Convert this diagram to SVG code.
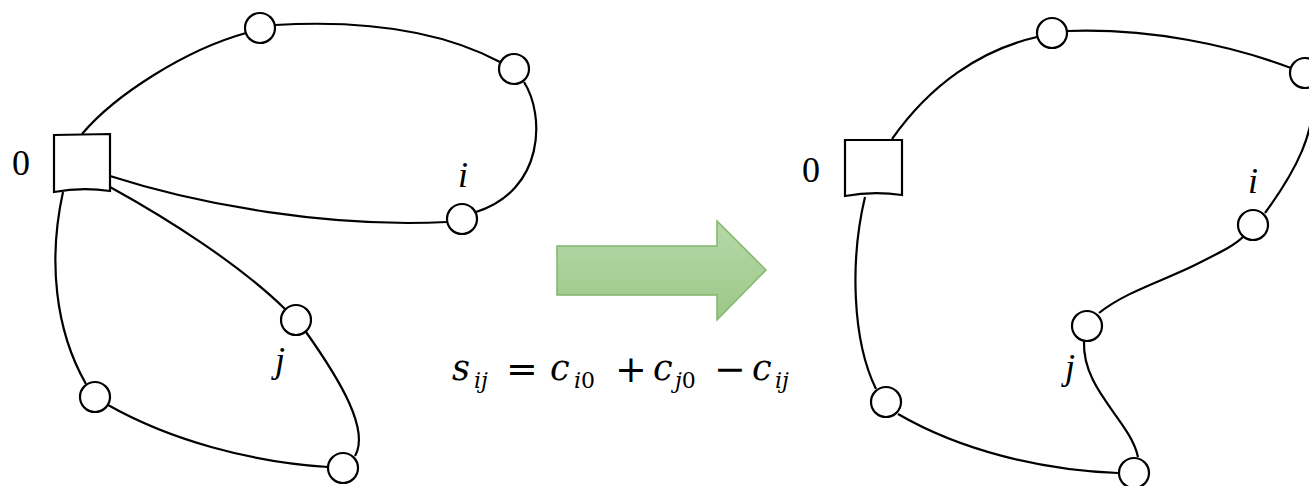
<svg xmlns="http://www.w3.org/2000/svg" width="1309" height="486" viewBox="0 0 1309 486">
<defs>
<linearGradient id="ag" x1="0" y1="0" x2="0" y2="1">
<stop offset="0" stop-color="#b6d8a9"/>
<stop offset="1" stop-color="#9bc888"/>
</linearGradient>
<style>
.e{fill:none;stroke:#000;stroke-width:2.2}
.n{fill:#fff;stroke:#000;stroke-width:2.2}
.t{font-family:"Liberation Serif",serif;font-size:36px;fill:#000}
.f{font-family:"DejaVu Serif",serif;font-size:35px;fill:#000}
.it{font-style:italic}
.sub{font-size:22px}
.op{font-size:38px}
</style>
</defs>
<rect width="1309" height="486" fill="#fff"/>
<g id="connectors">
<path class="e" d="M82,134 C115,95 185,50 246,33"/>
<path class="e" d="M275,25 C360,20 440,30 500,62"/>
<path class="e" d="M524,82 C545,115 545,190 476,212"/>
<path class="e" d="M110,176 C200,205 330,228 447,222"/>
<path class="e" d="M110,187 C170,220 240,265 285,309"/>
<path class="e" d="M306,332 C340,380 370,430 355,456"/>
<path class="e" d="M108,405 C170,440 250,462 328,467"/>
<path class="e" d="M63,192 C48,260 55,330 86,384"/>
<path class="e" d="M892,139 C930,85 980,50 1037,37"/>
<path class="e" d="M1067,31 C1150,28 1230,45 1291,68"/>
<path class="e" d="M1265,213 C1295,172 1318,130 1312,88"/>
<path class="e" d="M1099,313 C1125,292 1165,280 1195,265 S1235,245 1244,236"/>
<path class="e" d="M1084,341 C1082,390 1130,420 1138,457"/>
<path class="e" d="M898,414 C960,450 1040,470 1118,473"/>
<path class="e" d="M865,197 C850,260 852,340 876,389"/>
</g>
<g id="depot-left"><path class="n" d="M54,135 L110,134 L110,191 Q82,187 54,192 Z"/></g>
<g id="l-top"><circle class="n" cx="260" cy="28" r="15"/></g>
<g id="l-topright"><circle class="n" cx="514" cy="69" r="15"/></g>
<g id="l-i"><circle class="n" cx="462" cy="219" r="15"/></g>
<g id="l-j"><circle class="n" cx="296" cy="320" r="15"/></g>
<g id="l-botleft"><circle class="n" cx="95" cy="397" r="15"/></g>
<g id="l-bot"><circle class="n" cx="343" cy="468" r="15"/></g>
<g id="depot-right"><path class="n" d="M845,140 L902,140 L902,195 Q873,191 845,196 Z"/></g>
<g id="r-top"><circle class="n" cx="1052" cy="33" r="15"/></g>
<g id="r-topright"><circle class="n" cx="1305" cy="73" r="15"/></g>
<g id="r-i"><circle class="n" cx="1253" cy="225" r="15"/></g>
<g id="r-j"><circle class="n" cx="1087" cy="326" r="15"/></g>
<g id="r-botleft"><circle class="n" cx="886" cy="402" r="15"/></g>
<g id="r-bot"><circle class="n" cx="1134" cy="473" r="15"/></g>
<g id="labels">
<text class="t" x="21" y="175" text-anchor="middle">0</text>
<text class="t it" x="463" y="187" text-anchor="middle">i</text>
<text class="t it" x="280" y="372" text-anchor="middle">j</text>
<text class="t" x="811" y="182" text-anchor="middle">0</text>
<text class="t it" x="1253" y="193" text-anchor="middle">i</text>
<text class="t it" x="1070" y="379" text-anchor="middle">j</text>
</g>
<g id="arrow"><path d="M557,246 L717,246 L717,221 L766,270 L717,320 L717,295 L557,295 Z" fill="url(#ag)" stroke="#84b56a" stroke-width="1.5"/></g>
<g id="formula">
<text class="f it" x="452" y="380">s</text>
<text class="f it sub" x="474" y="388">ij</text>
<text class="f op" x="522" y="382" text-anchor="middle">=</text>
<text class="f it" x="550" y="380">c</text>
<text class="f sub" x="574" y="388"><tspan font-style="italic">i</tspan>0</text>
<text class="f op" x="631" y="382" text-anchor="middle">+</text>
<text class="f it" x="653" y="380">c</text>
<text class="f sub" x="675" y="388"><tspan font-style="italic">j</tspan>0</text>
<text class="f op" x="730" y="382" text-anchor="middle">−</text>
<text class="f it" x="752" y="380">c</text>
<text class="f it sub" x="775" y="388">ij</text>
</g>
</svg>
